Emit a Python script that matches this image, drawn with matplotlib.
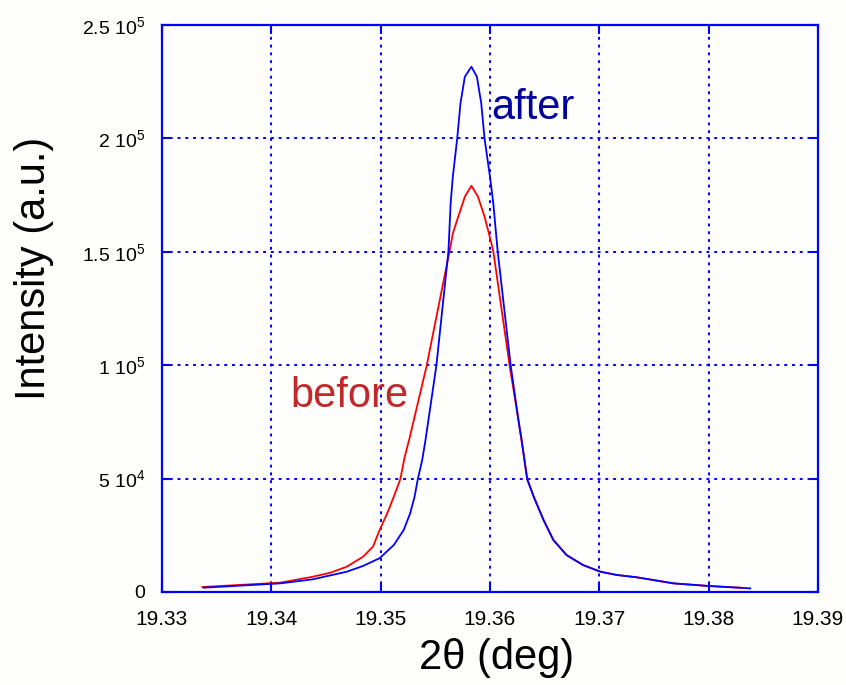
import numpy as np
import matplotlib
matplotlib.use('Agg')
import matplotlib.pyplot as plt

plt.rcParams['font.family'] = ['Liberation Sans', 'DejaVu Sans']
plt.rcParams['mathtext.fontset'] = 'custom'
plt.rcParams['mathtext.rm'] = 'Liberation Sans'
plt.rcParams['mathtext.it'] = 'Liberation Sans:italic'

# 2theta (deg) and intensity
theta_after = [19.3338, 19.3408, 19.3438, 19.3469, 19.3484, 19.3499, 19.3512, 19.3521,
               19.3527, 19.3531, 19.3534, 19.3538, 19.3541, 19.3551, 19.3562, 19.3564,
               19.3566, 19.3570, 19.3573, 19.3577, 19.3583, 19.3588, 19.3592, 19.3595,
               19.3600, 19.3603, 19.3607, 19.3619, 19.3626, 19.3629, 19.3634, 19.3640,
               19.3649, 19.3658, 19.3670, 19.3685, 19.3701, 19.3716, 19.3734, 19.3768,
               19.3800, 19.3838]
int_after = [1900, 3800, 5600, 8950, 11500, 14900, 20700, 27300,
             34700, 42000, 49800, 58200, 67000, 100000, 150300, 171400,
             183100, 200000, 215500, 227200, 231600, 227200, 215500, 200000,
             183100, 171400, 150300, 99600, 75800, 67000, 49800, 42000,
             31700, 22900, 16300, 11900, 8950, 7500, 6500, 3800,
             2650, 1600]

theta_before = [19.3337, 19.3408, 19.3438, 19.3454, 19.3469, 19.3484, 19.3493, 19.3499,
                19.3506, 19.3512, 19.3518, 19.3522, 19.3526, 19.3542, 19.3563, 19.3566,
                19.3571, 19.3577, 19.3583, 19.3589, 19.3595, 19.3599, 19.3603, 19.3618,
                19.3626, 19.3634, 19.3640, 19.3649, 19.3658, 19.3670, 19.3685, 19.3701,
                19.3716, 19.3734, 19.3768, 19.3800, 19.3829]
int_before = [2200, 4100, 6750, 8500, 11150, 15600, 20000, 27300,
              34700, 42000, 49800, 59600, 67000, 99600, 150300, 158100,
              165500, 174300, 179100, 174300, 165500, 158100, 150300, 99600,
              75800, 49800, 42000, 31700, 22900, 16300, 11900, 8950,
              7500, 6500, 3800, 2650, 1900]

xticks = [19.33, 19.34, 19.35, 19.36, 19.37, 19.38, 19.39]
yticks = [0, 50000, 100000, 150000, 200000, 250000]
ylabels = ['0', '5 10$^4$', '1 10$^5$', '1.5 10$^5$', '2 10$^5$', '2.5 10$^5$']

blue = '#0000ff'
bg = '#fefefc'
fig = plt.figure(figsize=(8.46, 6.85), dpi=100)
fig.patch.set_facecolor(bg)
ax = fig.add_axes([162/846, 93/685, 656/846, 567/685])
ax.set_facecolor(bg)

ax.plot(theta_before, int_before, color='#ff0000', lw=1.3, zorder=3)
ax.plot(theta_after, int_after, color='#0000ff', lw=1.3, zorder=4)

ax.set_xlim(19.33, 19.39)
ax.set_ylim(0, 250000)
ax.set_xticks(xticks)
ax.set_xticklabels(['%.2f' % t for t in xticks])
ax.set_yticks(yticks)
ax.set_yticklabels(ylabels)
ax.tick_params(axis='both', direction='in', length=6.5, width=1.5, color=blue,
               top=True, right=True)
ax.tick_params(axis='x', labelsize=15, pad=13)
ax.tick_params(axis='y', labelsize=14, pad=12)
ax.grid(True, color=blue, linestyle=(0, (1.5, 2.5)), lw=1.4)
for s in ax.spines.values():
    s.set_color(blue)
    s.set_linewidth(1.6)

ax.text(19.3601, 208500, 'after', color='#00009c', fontsize=30)
ax.text(19.34175, 81700, 'before', color='#c0282a', fontsize=30)

fig.text(34/846, 1 - 268/685, 'Intensity (a.u.)', rotation=90, fontsize=30,
         ha='center', va='center')
fig.text(497/846, 1 - 658/685, '2\u03b8 (deg)', fontsize=30, ha='center', va='center')

fig.savefig('out.png', dpi=100, facecolor=fig.get_facecolor())
